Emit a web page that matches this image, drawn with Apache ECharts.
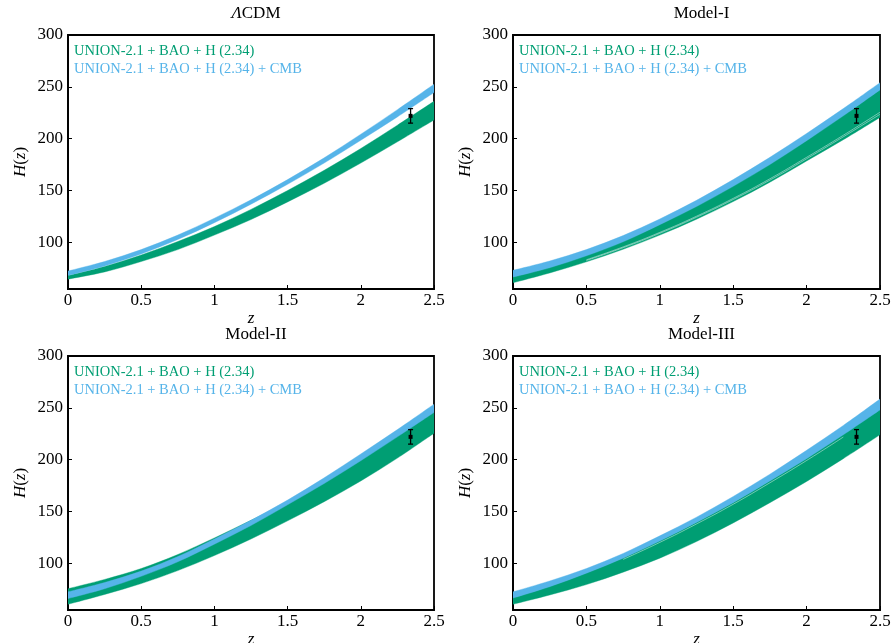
<!DOCTYPE html>
<html>
<head>
<meta charset="utf-8">
<script src="https://cdn.jsdelivr.net/npm/echarts@6/dist/echarts.min.js"></script>
<style>
html,body{margin:0;padding:0;background:#fff;}
#c{width:893px;height:643px;}
</style>
</head>
<body>
<div id="c"></div>
<script>
// ---- data ----
const zGrid = [0, 0.25, 0.5, 0.75, 1, 1.25, 1.5, 1.75, 2, 2.25, 2.5];
const xTicks = [0, 0.5, 1, 1.5, 2, 2.5];
const yTicks = [100, 150, 200, 250, 300];
const panelTitles = ['{i|Λ}CDM', 'Model-I', 'Model-II', 'Model-III'];
const legendGreen = 'UNION-2.1 + BAO + H (2.34)';
const legendBlue = 'UNION-2.1 + BAO + H (2.34) + CMB';

// ΛCDM
const lcdmGreenLo = [64.5, 71.5, 81.5, 93, 107, 122, 139, 157, 176.5, 197, 218];
const lcdmGreenHi = [68, 76.8, 87.8, 100.8, 115.2, 131.8, 150, 169.5, 190.5, 213, 236];
const lcdmBlueLo  = [68, 77.2, 88.8, 102.8, 119, 136.8, 156, 176.5, 198.5, 221, 244.5];
const lcdmBlueHi  = [72.3, 81.5, 93, 107, 123.3, 141, 160.5, 181.5, 204.3, 228, 252.5];
// Model-I
const m1GreenLo = [61, 70.5, 81.2, 93.3, 107, 122.3, 139.3, 158, 178.5, 199, 220.5];
const m1GreenHi = [67, 76, 87.5, 101, 117.5, 135, 154.5, 175.5, 198.5, 222.5, 247.5];
const m1BlueLo  = [66.5, 75.5, 87, 100.5, 117, 134.5, 154, 175, 198, 222, 247];
const m1BlueHi  = [73, 82, 93, 106.5, 122.5, 140.5, 160.5, 182, 205, 229, 254];
// thin gaps between sample curves inside the Model-I green band (z = 0.5 … 2.5)
const m1GapZ  = [0.5, 0.75, 1, 1.25, 1.5, 1.75, 2, 2.25, 2.5];
const m1GapA  = [83.2, 95.6, 109.6, 125.2, 142.4, 161.3, 182, 203.3, 225.5];
const m1GapB  = [82.5, 94.8, 108.7, 124.2, 141.3, 160, 180.6, 201.8, 223.5];
// Model-II
const m2GreenLo = [60.5, 70, 80.5, 93, 107.5, 123.5, 141, 159.5, 179.5, 201.5, 225.5];
const m2GreenHi = [75.5, 84.5, 95, 108.5, 124.5, 141.5, 159, 179, 201, 223.5, 247.5];
const m2BlueLo  = [66, 75.5, 87.5, 101.5, 118.5, 136.5, 156.5, 177, 199, 222, 245.5];
const m2BlueHi  = [72.5, 81.5, 92.5, 106.5, 123.5, 141.5, 161, 182.5, 205.5, 229, 253.5];
// Model-III
const m3GreenLo = [60.5, 69.5, 79.5, 91.5, 105, 121, 139, 158.5, 179, 201, 224];
const m3GreenHi = [67, 78, 91, 105.5, 122, 140, 159, 180, 201.5, 224.5, 249];
const m3BlueLo  = [66.5, 77.5, 90.5, 105, 121.5, 139.5, 158.5, 179.5, 201, 224, 248];
const m3BlueHi  = [72.5, 83, 95, 109.5, 126.5, 144.5, 164.5, 186, 209, 233, 258.5];
// thin gap near the top of the Model-III green band (z = 0.75 … 2.25)
const m3GapZ  = [0.75, 1, 1.25, 1.5, 1.75, 2, 2.25];
const m3GapA  = [103.8, 120.2, 138, 157, 177.7, 199.2, 221.8];

// H(z=2.34) measurement: [z, H, error]
const hzPoint = [2.34, 222, 7];

// ---- styling ----
const GREEN = '#009E73';
const BLUE = '#56B4E9';
const FONT = '"Liberation Serif", "Times New Roman", serif';

const panels = [
  {gl: lcdmGreenLo, gh: lcdmGreenHi, bl: lcdmBlueLo, bh: lcdmBlueHi, gaps: []},
  {gl: m1GreenLo, gh: m1GreenHi, bl: m1BlueLo, bh: m1BlueHi, gaps: [[m1GapZ, m1GapA], [m1GapZ, m1GapB]]},
  {gl: m2GreenLo, gh: m2GreenHi, bl: m2BlueLo, bh: m2BlueHi, gaps: []},
  {gl: m3GreenLo, gh: m3GreenHi, bl: m3BlueLo, bh: m3BlueHi, gaps: [[m3GapZ, m3GapA]]}
];
const grids = [
  {left: 68, top: 35, width: 366, height: 254},
  {left: 513, top: 35, width: 367, height: 254},
  {left: 68, top: 356, width: 366, height: 254},
  {left: 513, top: 356, width: 367, height: 254}
];

// smooth path through pixel points (Catmull-Rom -> cubic Bezier), continuing an existing path
function curveTo(pts) {
  let d = '';
  const n = pts.length;
  for (let i = 0; i < n - 1; i++) {
    const p0 = pts[Math.max(i - 1, 0)], p1 = pts[i], p2 = pts[i + 1], p3 = pts[Math.min(i + 2, n - 1)];
    const c1 = [p1[0] + (p2[0] - p0[0]) / 6, p1[1] + (p2[1] - p0[1]) / 6];
    const c2 = [p2[0] - (p3[0] - p1[0]) / 6, p2[1] - (p3[1] - p1[1]) / 6];
    d += ' C' + c1[0] + ' ' + c1[1] + ' ' + c2[0] + ' ' + c2[1] + ' ' + p2[0] + ' ' + p2[1];
  }
  return d;
}

// band drawn as a filled shape between lower and upper curves (through the axis scales)
function band(idx, lo, hi, color, z) {
  return {
    type: 'custom', xAxisIndex: idx, yAxisIndex: idx, z: z, silent: true, clip: true,
    encode: {x: 0, y: 1},
    data: zGrid.map((x, i) => [x, lo[i], hi[i]]),
    renderItem: function (params, api) {
      if (params.dataIndexInside !== 0) return null;
      const n = params.dataInsideLength;
      const up = [], dn = [];
      for (let k = 0; k < n; k++) {
        const x = api.value(0, k);
        dn.push(api.coord([x, api.value(1, k)]));
        up.push(api.coord([x, api.value(2, k)]));
      }
      dn.reverse();
      let d = 'M' + up[0][0] + ' ' + up[0][1] + curveTo(up);
      d += ' L' + dn[0][0] + ' ' + dn[0][1] + curveTo(dn) + ' Z';
      return {type: 'path', shape: {pathData: d}, style: {fill: color, stroke: color, lineWidth: 0.4}};
    }
  };
}

const series = [];
const xAxes = [], yAxes = [], titles = [], graphics = [];
grids.forEach((g, i) => {
  const p = panels[i];
  series.push(band(i, p.gl, p.gh, GREEN, 2));
  p.gaps.forEach(gp => {
    series.push({type: 'line', xAxisIndex: i, yAxisIndex: i, z: 2.5, silent: true,
      data: gp[0].map((x, k) => [x, gp[1][k]]), smooth: true, symbol: 'none',
      lineStyle: {color: '#ffffff', width: 0.6, opacity: 0.75}});
  });
  series.push(band(i, p.bl, p.bh, BLUE, 3));
  series.push({
    type: 'custom', xAxisIndex: i, yAxisIndex: i, z: 6, silent: true,
    data: [hzPoint],
    renderItem: function (params, api) {
      const x = api.value(0), y = api.value(1), e = api.value(2);
      const t = api.coord([x, y + e]), b = api.coord([x, y - e]), c = api.coord([x, y]);
      const st = {stroke: '#000', lineWidth: 1.3};
      return {type: 'group', children: [
        {type: 'line', shape: {x1: t[0], y1: t[1], x2: b[0], y2: b[1]}, style: st},
        {type: 'line', shape: {x1: t[0] - 2.5, y1: t[1], x2: t[0] + 2.5, y2: t[1]}, style: st},
        {type: 'line', shape: {x1: b[0] - 2.5, y1: b[1], x2: b[0] + 2.5, y2: b[1]}, style: st},
        {type: 'rect', shape: {x: c[0] - 2, y: c[1] - 2, width: 4, height: 4}, style: {fill: '#000'}}
      ]};
    }
  });
  xAxes.push({
    type: 'value', gridIndex: i, min: 0, max: 2.5, interval: 0.5,
    name: '{i|z}', nameLocation: 'middle', nameGap: 14,
    nameTextStyle: {fontFamily: FONT, fontSize: 17, color: '#000', rich: {i: {fontStyle: 'italic', fontFamily: FONT, fontSize: 17, color: '#000'}}},
    axisLine: {show: true, onZero: false, lineStyle: {color: '#000', width: 1.8}},
    axisTick: {show: true, inside: true, length: 4, customValues: xTicks, lineStyle: {color: '#000', width: 1}},
    axisLabel: {fontFamily: FONT, fontSize: 17, color: '#000', margin: 3, customValues: xTicks},
    splitLine: {show: false}
  });
  yAxes.push({
    type: 'value', gridIndex: i, min: 55, max: 300,
    name: '{i|H}({i|z})', nameLocation: 'middle', nameGap: 39,
    nameTextStyle: {fontFamily: FONT, fontSize: 17, color: '#000', rich: {i: {fontStyle: 'italic', fontFamily: FONT, fontSize: 17, color: '#000'}}},
    axisLine: {show: true, onZero: false, lineStyle: {color: '#000', width: 1.8}},
    axisTick: {show: true, inside: true, length: 4, customValues: yTicks, lineStyle: {color: '#000', width: 1}},
    axisLabel: {fontFamily: FONT, fontSize: 17, color: '#000', margin: 5, customValues: yTicks},
    splitLine: {show: false}
  });
  titles.push({
    text: panelTitles[i], left: g.left + g.width / 2, top: g.top - 35, textAlign: 'center',
    textStyle: {fontFamily: FONT, fontSize: 17, fontWeight: 'normal', color: '#000',
      rich: {i: {fontStyle: 'italic', fontFamily: FONT, fontSize: 17, color: '#000'}}}
  });
  graphics.push({type: 'text', left: g.left + 6, top: g.top + 8.5, z: 10,
    style: {text: legendGreen, fill: GREEN, font: '14.5px ' + FONT}});
  graphics.push({type: 'text', left: g.left + 6, top: g.top + 27, z: 10,
    style: {text: legendBlue, fill: BLUE, font: '14.5px ' + FONT}});
});

const chart = echarts.init(document.getElementById('c'), null, {renderer: 'canvas'});
chart.setOption({
  animation: false,
  backgroundColor: '#fff',
  title: titles,
  grid: grids.map(g => Object.assign({show: true, borderColor: '#000', borderWidth: 1.8,
    backgroundColor: 'transparent', containLabel: false, outerBoundsMode: 'none'}, g)),
  xAxis: xAxes,
  yAxis: yAxes,
  graphic: graphics,
  series: series
});
</script>
</body>
</html>
